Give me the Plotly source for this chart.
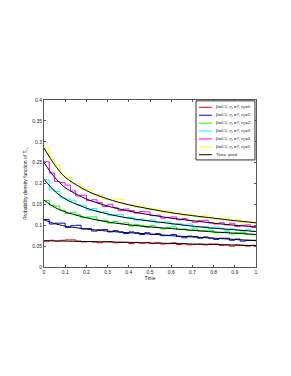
import plotly.graph_objects as go

# ---- data ----
bin_width = 0.025
n_bins = 40

hist_red = [0.062, 0.064, 0.062, 0.064, 0.065, 0.065, 0.062, 0.060, 0.061, 0.060,
            0.058, 0.061, 0.061, 0.058, 0.059, 0.059, 0.056, 0.059, 0.057, 0.059,
            0.056, 0.058, 0.055, 0.056, 0.058, 0.054, 0.056, 0.053, 0.054, 0.055,
            0.053, 0.055, 0.055, 0.052, 0.053, 0.050, 0.053, 0.052, 0.050, 0.052]
hist_blue = [0.114, 0.103, 0.105, 0.105, 0.095, 0.099, 0.100, 0.091, 0.092, 0.086,
             0.089, 0.090, 0.084, 0.087, 0.084, 0.080, 0.084, 0.082, 0.078, 0.082,
             0.078, 0.080, 0.075, 0.076, 0.078, 0.073, 0.070, 0.074, 0.073, 0.069,
             0.072, 0.069, 0.066, 0.069, 0.069, 0.064, 0.067, 0.062, 0.064, 0.064]
hist_green = [0.159, 0.148, 0.146, 0.136, 0.128, 0.131, 0.125, 0.118, 0.120, 0.120,
              0.111, 0.112, 0.105, 0.109, 0.104, 0.106, 0.098, 0.102, 0.099, 0.095,
              0.099, 0.095, 0.091, 0.095, 0.096, 0.090, 0.091, 0.087, 0.091, 0.086,
              0.088, 0.088, 0.082, 0.083, 0.084, 0.079, 0.082, 0.083, 0.078, 0.077]
hist_cyan = [0.209, 0.185, 0.181, 0.166, 0.163, 0.160, 0.149, 0.147, 0.136, 0.140,
             0.132, 0.132, 0.124, 0.125, 0.126, 0.118, 0.119, 0.112, 0.115, 0.111,
             0.113, 0.106, 0.108, 0.108, 0.101, 0.104, 0.099, 0.103, 0.095, 0.096,
             0.097, 0.092, 0.096, 0.093, 0.088, 0.092, 0.089, 0.086, 0.090, 0.085]
hist_magenta = [0.252, 0.225, 0.205, 0.202, 0.196, 0.182, 0.170, 0.172, 0.159, 0.161,
                0.154, 0.145, 0.150, 0.142, 0.135, 0.139, 0.135, 0.129, 0.133, 0.132,
                0.123, 0.124, 0.117, 0.119, 0.120, 0.113, 0.116, 0.111, 0.107, 0.111,
                0.112, 0.106, 0.103, 0.106, 0.101, 0.105, 0.097, 0.100, 0.101, 0.095]
hist_yellow = [0.286, 0.257, 0.245, 0.220, 0.214, 0.200, 0.199, 0.186, 0.186, 0.174,
               0.174, 0.162, 0.163, 0.163, 0.162, 0.150, 0.150, 0.142, 0.147, 0.138,
               0.139, 0.139, 0.132, 0.135, 0.128, 0.130, 0.123, 0.127, 0.123, 0.119,
               0.124, 0.119, 0.113, 0.117, 0.118, 0.111, 0.114, 0.105, 0.110, 0.105]

t_theo = [0, 0.05, 0.1, 0.2, 0.3, 0.4, 0.5, 0.6, 0.7, 0.8, 0.9, 1.0]
theo_red = [0.063, 0.0625, 0.062, 0.061, 0.060, 0.059, 0.0575, 0.0565, 0.055, 0.054, 0.0525, 0.051]
theo_blue = [0.113, 0.104, 0.098, 0.091, 0.086, 0.082, 0.079, 0.075, 0.072, 0.069, 0.066, 0.063]
theo_green = [0.160, 0.143, 0.132, 0.118, 0.108, 0.101, 0.096, 0.092, 0.088, 0.084, 0.081, 0.078]
theo_cyan = [0.210, 0.182, 0.163, 0.141, 0.127, 0.117, 0.110, 0.104, 0.098, 0.093, 0.089, 0.085]
theo_magenta = [0.250, 0.215, 0.190, 0.163, 0.146, 0.134, 0.125, 0.117, 0.111, 0.105, 0.100, 0.096]
theo_yellow = [0.285, 0.245, 0.215, 0.183, 0.163, 0.149, 0.139, 0.130, 0.123, 0.117, 0.111, 0.106]

series_names = ["β=0.5, τ<sub>1</sub> =7, n<sub>1</sub>=0",
                "β=0.5, τ<sub>1</sub> =7, n<sub>1</sub>=1",
                "β=0.5, τ<sub>1</sub> =7, n<sub>1</sub>=2",
                "β=0.5, τ<sub>1</sub> =7, n<sub>1</sub>=3",
                "β=0.5, τ<sub>1</sub> =7, n<sub>1</sub>=4",
                "β=0.5, τ<sub>1</sub> =7, n<sub>1</sub>=5"]
theo_name = "Theo. pred."
series_colors = ["#ff0000", "#0000ff", "#00ff00", "#00ffff", "#ff00ff", "#ffff00"]

x_ticks = [0, 0.1, 0.2, 0.3, 0.4, 0.5, 0.6, 0.7, 0.8, 0.9, 1]
x_ticktext = ["0", "0.1", "0.2", "0.3", "0.4", "0.5", "0.6", "0.7", "0.8", "0.9", "1"]
y_ticks = [0, 0.05, 0.1, 0.15, 0.2, 0.25, 0.3, 0.35, 0.4]
y_ticktext = ["0", "0.05", "0.1", "0.15", "0.2", "0.25", "0.3", "0.35", "0.4"]

# ---- figure ----
hists = [hist_red, hist_blue, hist_green, hist_cyan, hist_magenta, hist_yellow]
theos = [theo_red, theo_blue, theo_green, theo_cyan, theo_magenta, theo_yellow]
edges = [i * bin_width for i in range(n_bins + 1)]

fig = go.Figure()
for h, c, nm in zip(hists, series_colors, series_names):
    fig.add_trace(go.Scatter(x=edges, y=h + [h[-1]], mode="lines",
                             line=dict(color=c, width=1, shape="hv"),
                             name=nm, showlegend=False))
for th in theos:
    fig.add_trace(go.Scatter(x=t_theo, y=th, mode="lines",
                             line=dict(color="black", width=1, shape="spline", smoothing=0.8),
                             name=theo_name, showlegend=False))

font_family = "Liberation Sans, Arial, sans-serif"
axis_common = dict(showline=True, linecolor="#555555", linewidth=1, mirror="ticks",
                   ticks="inside", ticklen=2, tickcolor="#555555", showgrid=False,
                   zeroline=False, tickfont=dict(size=5, color="#222222", family=font_family))

# the page body adds an 8px offset, so margins are shifted accordingly
fig.update_layout(
    width=291, height=376,
    margin=dict(l=36, r=43, t=92, b=117),
    paper_bgcolor="white", plot_bgcolor="white",
    showlegend=False,
    font=dict(family=font_family, size=5, color="#222222"),
    xaxis=dict(range=[0, 1], tickvals=x_ticks, ticktext=x_ticktext,
               title=dict(text="Time", font=dict(size=5), standoff=2), **axis_common),
    yaxis=dict(range=[0, 0.4], tickvals=y_ticks, ticktext=y_ticktext,
               title=dict(text="Probability density function of T<sub>n<sub>1</sub></sub>",
                          font=dict(size=5), standoff=4), **axis_common),
)

# manual legend (compact, MATLAB style)
leg_x0, leg_x1 = 0.717, 0.995
leg_y1, leg_y0 = 0.995, 0.641
row_top = 0.956
row_h = 0.0473
fig.add_shape(type="rect", xref="paper", yref="paper", x0=leg_x0, x1=leg_x1,
              y0=leg_y0, y1=leg_y1, line=dict(color="#333333", width=1),
              fillcolor="white", layer="above")
legend_colors = series_colors + ["black"]
legend_names = series_names + [theo_name]
for i, (c, nm) in enumerate(zip(legend_colors, legend_names)):
    yy = row_top - i * row_h
    fig.add_shape(type="line", xref="paper", yref="paper", x0=0.731,
                  x1=0.792, y0=yy, y1=yy, line=dict(color=c, width=1),
                  layer="above")
    fig.add_annotation(xref="paper", yref="paper", x=0.800, y=yy,
                       text=nm, showarrow=False, xanchor="left", yanchor="middle",
                       font=dict(size=4.3, color="#222222", family=font_family))

fig.write_html("out.html")
